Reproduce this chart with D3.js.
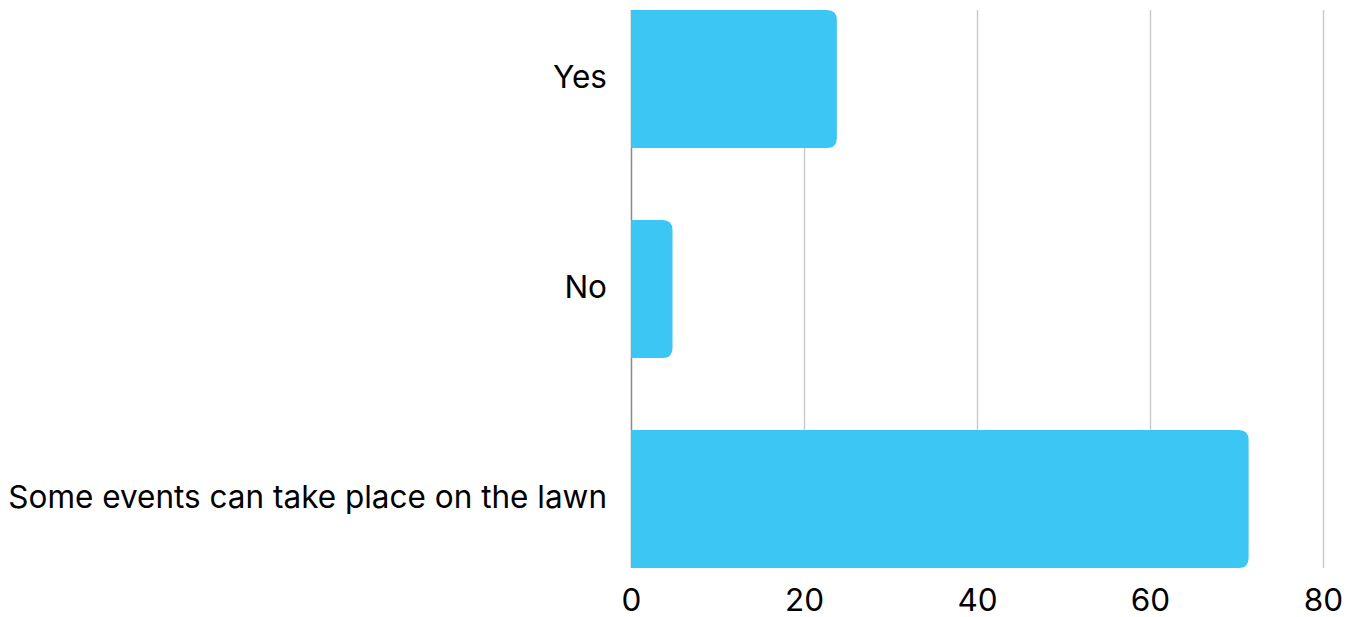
<!DOCTYPE html>
<html><head><meta charset="utf-8">
<script src="https://cdn.jsdelivr.net/npm/d3@7"></script>
<style>body{margin:0;background:#fff}svg{display:block}</style>
</head><body>
<svg id="c" width="1359" height="617"></svg>
<script>
const categories = ["Yes", "No", "Some events can take place on the lawn"];
const values = [23.8, 4.8, 71.4];
const tickValues = [0, 20, 40, 60, 80];

const svg = d3.select("#c");
const mLeft = 631, mRight = 1323, mTop = 10, mBottom = 568;
const x = d3.scaleLinear().domain([0, 80]).range([mLeft, mRight]);
const y = d3.scaleBand().domain(categories).range([mTop, mBottom]).paddingInner(0.343).paddingOuter(0);
const font = "Inter, 'Noto Sans', sans-serif";

// gridlines
svg.append("g").selectAll("line").data(tickValues.filter(d => d > 0)).join("line")
  .attr("x1", d => Math.round(x(d)) + 0.5).attr("x2", d => Math.round(x(d)) + 0.5)
  .attr("y1", mTop).attr("y2", mBottom)
  .attr("stroke", "#cccccc").attr("stroke-width", 1.5);
// zero axis
svg.append("line").attr("x1", x(0) + 0.5).attr("x2", x(0) + 0.5).attr("y1", mTop).attr("y2", mBottom)
  .attr("stroke", "#888").attr("stroke-width", 1.5);

// bars with right rounded corners
const r = 10;
svg.append("g").selectAll("path").data(categories).join("path")
  .attr("fill", "#3bc6f4")
  .attr("d", (c, i) => {
    const x0 = x(0), x1 = x(values[i]), y0 = y(c), h = y.bandwidth();
    const rr = Math.min(r, (x1 - x0) / 2);
    return `M${x0},${y0}H${x1 - rr}Q${x1},${y0} ${x1},${y0 + rr}V${y0 + h - rr}Q${x1},${y0 + h} ${x1 - rr},${y0 + h}H${x0}Z`;
  });

// category labels
svg.append("g").selectAll("text").data(categories).join("text")
  .attr("x", 607).attr("y", c => y(c) + y.bandwidth() / 2)
  .attr("dy", "0.3em").attr("text-anchor", "end")
  .attr("font-family", font).attr("font-size", 31.5).attr("fill", "#000")
  .text(c => c);

// x axis tick labels
const xAxis = d3.axisBottom(x).tickValues(tickValues).tickSize(0).tickPadding(0);
const gx = svg.append("g").attr("transform", `translate(0,${mBottom})`).call(xAxis);
gx.select(".domain").remove();
gx.selectAll("text").attr("font-family", font).attr("font-size", 31.5).attr("fill", "#000")
  .attr("y", 43).attr("dy", 0);
</script>
</body></html>
